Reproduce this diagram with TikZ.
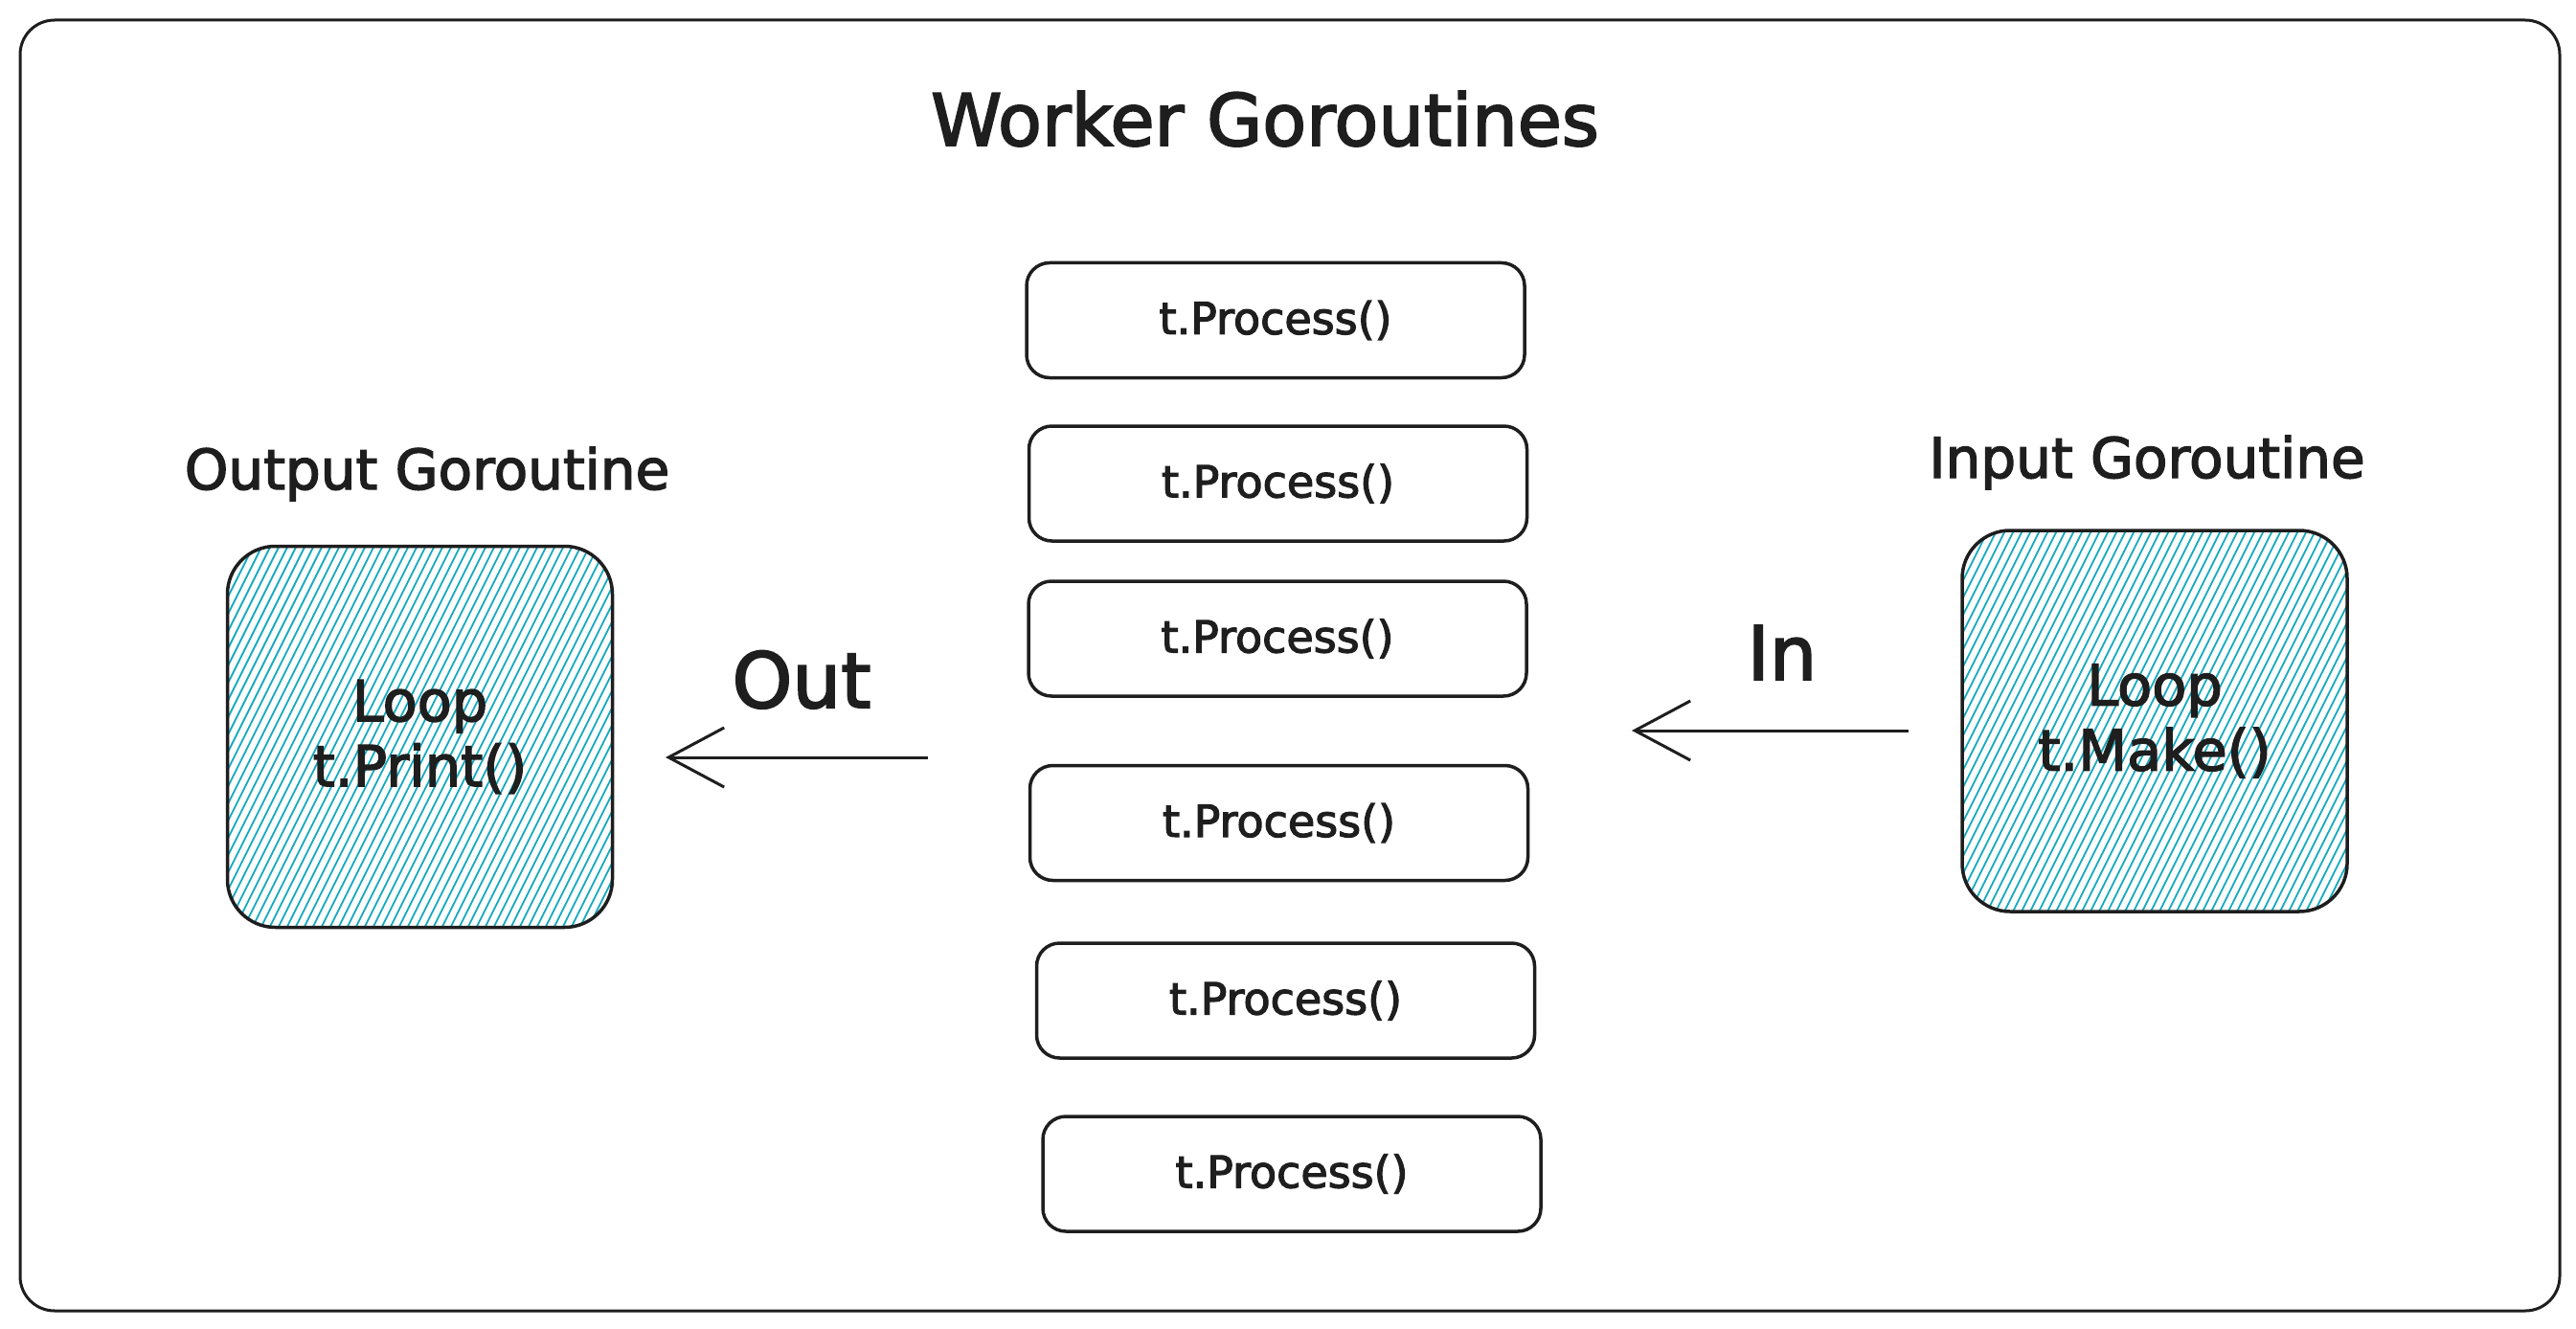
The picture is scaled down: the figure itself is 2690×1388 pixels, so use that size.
\documentclass[tikz,border=0pt]{standalone}
\usepackage{fontspec}
\setmainfont{DejaVu Sans}[FakeBold=2.5]
\usetikzlibrary{arrows.meta}
\definecolor{ink}{HTML}{1E1E1E}
\definecolor{hatchc}{HTML}{15AABF}
\begin{document}
\begin{tikzpicture}[x=1pt,y=-1pt,
  procbox/.style={draw=ink, line width=3.5pt, rounded corners=24pt, minimum width=520pt, minimum height=120pt, inner sep=0pt, text=ink, font=\fontsize{46}{54}\selectfont},
  gobox/.style={draw=ink, line width=3.5pt, rounded corners=50pt, minimum width=402pt, minimum height=398pt, inner sep=0pt, align=center, text=ink, font=\fontsize{59}{68}\selectfont,
    path picture={\foreach \k in {0,...,72} {\draw[hatchc, line width=1.8pt] ([xshift=\k*9pt-240pt,yshift=-10pt]path picture bounding box.south west) -- ++(215pt,430pt);}}},
  glabel/.style={text=ink, font=\fontsize{58}{66}\selectfont, inner sep=0pt},
  flow/.style={draw=ink, line width=3pt, -{Straight Barb[length=58pt,width=62pt]}}
]
\path[fill=white] (0,0) rectangle (2690,1388);
\useasboundingbox (0,0) rectangle (2690,1388);
\node (frame) [draw=ink, line width=3pt, rounded corners=36pt, minimum width=2652pt, minimum height=1348pt] at (1347,695) {};
\node (title) [text=ink, font=\fontsize{75}{84}\selectfont] at (1321,124) {Worker Goroutines};
\node (p1) [procbox] at (1332,334.5) {t.Process()};
\node (p2) [procbox] at (1334.5,505) {t.Process()};
\node (p3) [procbox] at (1334,667) {t.Process()};
\node (p4) [procbox] at (1335.5,859.5) {t.Process()};
\node (p5) [procbox] at (1342.5,1045) {t.Process()};
\node (p6) [procbox] at (1349,1226) {t.Process()};
\node (outbox) [gobox] at (438.5,769.5) {Loop\\t.Print()};
\node (inbox) [gobox] at (2250,753) {Loop\\t.Make()};
\node (outlbl) [glabel, anchor=base] at (446,511) {Output Goroutine};
\node (inlbl) [glabel, anchor=base] at (2242,499) {Input Goroutine};
\node (outtxt) [text=ink, font=\fontsize{80}{90}\selectfont, anchor=base, inner sep=0pt] at (837,739) {Out};
\node (intxt) [text=ink, font=\fontsize{78}{88}\selectfont, anchor=base, inner sep=0pt] at (1861,710) {In};
\coordinate (outS) at (969,791);
\coordinate (outE) at (695,791);
\coordinate (inS) at (1993,763);
\coordinate (inE) at (1704,763);
\draw[flow] (outS) -- (outE);
\draw[flow] (inS) -- (inE);
\end{tikzpicture}
\end{document}
